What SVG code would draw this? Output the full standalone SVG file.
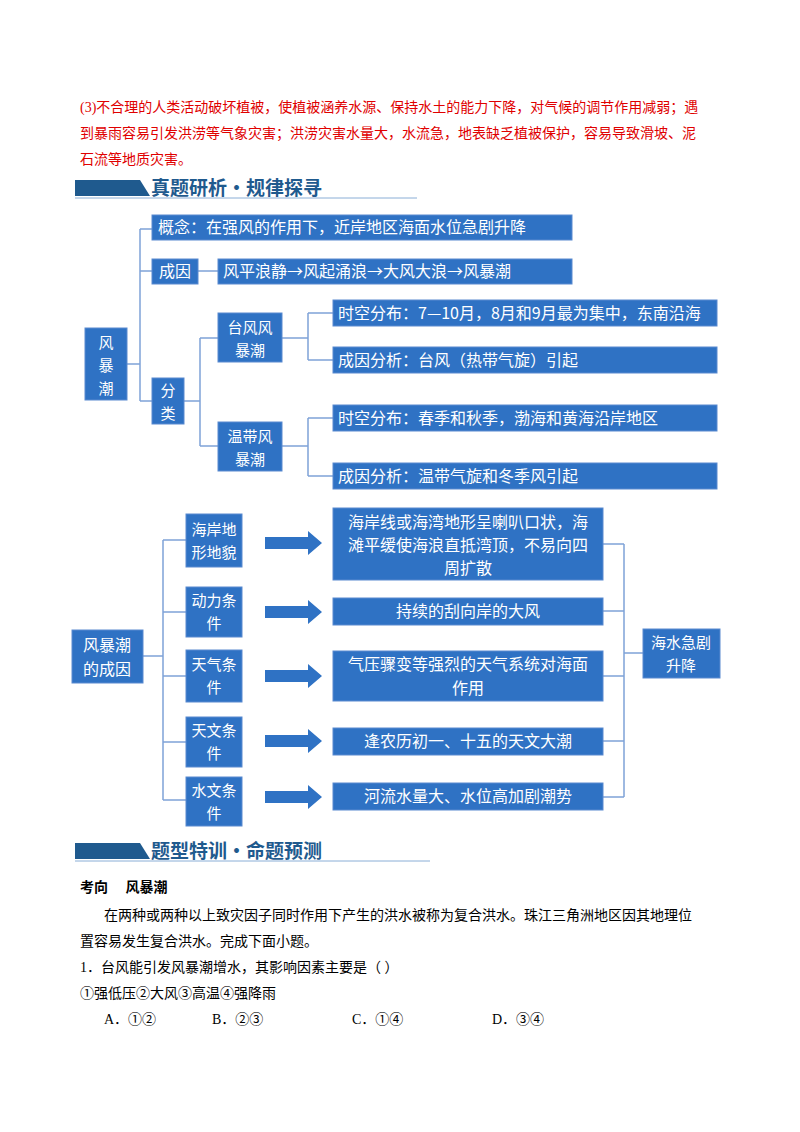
<svg xmlns="http://www.w3.org/2000/svg" width="800" height="1132" viewBox="0 0 800 1132">
<style>
text{font-family:"Liberation Serif","Noto Sans CJK SC",serif;}
.red{fill:#e00000;font-size:14px;}
.b{fill:#2f72c4;stroke:#5a8ad0;stroke-width:1}
.w{fill:#fff;font-family:"Noto Sans CJK SC",sans-serif;font-size:16px}
.s{font-size:15px}
.c{fill:none;stroke:#7fa3d8;stroke-width:1.5}
.t{fill:#000;font-size:14px}
.h{font-family:"Noto Sans CJK SC",serif;font-size:19px;fill:#1f5a8e;font-weight:bold}
.ar{fill:#2f72c4}
</style>
<rect width="800" height="1132" fill="#fff"/>
<text class="red" x="80" y="112">(3)不合理的人类活动破坏植被，使植被涵养水源、保持水土的能力下降，对气候的调节作用减弱；遇</text>
<text class="red" x="80" y="138">到暴雨容易引发洪涝等气象灾害；洪涝灾害水量大，水流急，地表缺乏植被保护，容易导致滑坡、泥</text>
<text class="red" x="80" y="164">石流等地质灾害。</text>
<g id="banner1">
<polygon points="75,180 140,180 150,196 75,196" fill="#1f5a8e"/>
<text class="h" x="151" y="195">真题研析·规律探寻</text>
<line x1="75" y1="198" x2="417" y2="198" stroke="#8aaed6" stroke-width="1"/>
</g>
<g id="connectors">
<path class="c" d="M140,229 V401 M140,229 H152 M140,271 H152 M127,364 H140 M140,401 H152 M198,271 H218 M184,401 H200 M200,338 V446 M200,338 H218 M200,446 H218 M282,338 H308 M308,313 V360 M308,313 H333 M308,360 H333 M282,446 H308 M308,418 V476 M308,418 H333 M308,476 H333"/>
<path class="c" d="M163,540 V800 M143,656 H163 M163,540 H186 M163,612 H186 M163,676 H186 M163,742 H186 M163,800 H186 M603,544 H624 M603,611 H624 M603,676 H624 M603,741 H624 M603,797 H624 M624,544 V797 M624,653 H643"/>
<path class="ar" d="M265,537 H308 V531 L322,543 L308,555 V549 H265Z M265,606 H308 V600 L322,612 L308,624 V618 H265Z M265,670 H308 V664 L322,676 L308,688 V682 H265Z M265,735 H308 V729 L322,741 L308,753 V747 H265Z M265,791 H308 V785 L322,797 L308,809 V803 H265Z"/>
</g>
<g id="n1"><rect class="b" x="152" y="215" width="420" height="25"/><text class="w" x="158" y="233">概念：在强风的作用下，近岸地区海面水位急剧升降</text></g>
<g id="n2"><rect class="b" x="152" y="259" width="46" height="25"/><text class="w" x="159" y="277">成因</text></g>
<g id="n3"><rect class="b" x="218" y="259" width="354" height="25"/><text class="w" x="223" y="277">风平浪静→风起涌浪→大风大浪→风暴潮</text></g>
<g id="n4"><rect class="b" x="85" y="328" width="42" height="72"/><text class="w s" x="106" y="348" text-anchor="middle">风</text><text class="w s" x="106" y="371" text-anchor="middle">暴</text><text class="w s" x="106" y="394" text-anchor="middle">潮</text></g>
<g id="n5"><rect class="b" x="152" y="378" width="32" height="46"/><text class="w s" x="168" y="396" text-anchor="middle">分</text><text class="w s" x="168" y="419" text-anchor="middle">类</text></g>
<g id="n6"><rect class="b" x="218" y="313" width="64" height="49"/><text class="w s" x="250" y="333" text-anchor="middle">台风风</text><text class="w s" x="250" y="356" text-anchor="middle">暴潮</text></g>
<g id="n7"><rect class="b" x="218" y="422" width="64" height="49"/><text class="w s" x="250" y="442" text-anchor="middle">温带风</text><text class="w s" x="250" y="465" text-anchor="middle">暴潮</text></g>
<g id="n8"><rect class="b" x="333" y="300" width="384" height="26"/><text class="w" x="338" y="319">时空分布：7—10月，8月和9月最为集中，东南沿海</text></g>
<g id="n9"><rect class="b" x="333" y="347" width="384" height="26"/><text class="w" x="338" y="366">成因分析：台风（热带气旋）引起</text></g>
<g id="n10"><rect class="b" x="333" y="405" width="384" height="26"/><text class="w" x="338" y="424">时空分布：春季和秋季，渤海和黄海沿岸地区</text></g>
<g id="n11"><rect class="b" x="333" y="463" width="384" height="26"/><text class="w" x="338" y="482">成因分析：温带气旋和冬季风引起</text></g>
<g id="m0"><rect class="b" x="72" y="630" width="71" height="53"/><text class="w" x="107" y="651" text-anchor="middle">风暴潮</text><text class="w" x="107" y="675" text-anchor="middle">的成因</text></g>
<g id="m1"><rect class="b" x="186" y="514" width="56" height="53"/><text class="w s" x="214" y="535" text-anchor="middle">海岸地</text><text class="w s" x="214" y="558" text-anchor="middle">形地貌</text></g>
<g id="m2"><rect class="b" x="186" y="587" width="56" height="50"/><text class="w s" x="214" y="606" text-anchor="middle">动力条</text><text class="w s" x="214" y="629" text-anchor="middle">件</text></g>
<g id="m3"><rect class="b" x="186" y="650" width="56" height="52"/><text class="w s" x="214" y="670" text-anchor="middle">天气条</text><text class="w s" x="214" y="693" text-anchor="middle">件</text></g>
<g id="m4"><rect class="b" x="186" y="717" width="56" height="50"/><text class="w s" x="214" y="736" text-anchor="middle">天文条</text><text class="w s" x="214" y="759" text-anchor="middle">件</text></g>
<g id="m5"><rect class="b" x="186" y="777" width="56" height="49"/><text class="w s" x="214" y="796" text-anchor="middle">水文条</text><text class="w s" x="214" y="819" text-anchor="middle">件</text></g>
<g id="r1"><rect class="b" x="333" y="508" width="270" height="72"/><text class="w" x="468" y="528" text-anchor="middle">海岸线或海湾地形呈喇叭口状，海</text><text class="w" x="468" y="551" text-anchor="middle">滩平缓使海浪直抵湾顶，不易向四</text><text class="w" x="468" y="574" text-anchor="middle">周扩散</text></g>
<g id="r2"><rect class="b" x="333" y="598" width="270" height="27"/><text class="w" x="468" y="617" text-anchor="middle">持续的刮向岸的大风</text></g>
<g id="r3"><rect class="b" x="333" y="651" width="270" height="50"/><text class="w" x="468" y="670" text-anchor="middle">气压骤变等强烈的天气系统对海面</text><text class="w" x="468" y="694" text-anchor="middle">作用</text></g>
<g id="r4"><rect class="b" x="333" y="728" width="270" height="27"/><text class="w" x="468" y="747" text-anchor="middle">逢农历初一、十五的天文大潮</text></g>
<g id="r5"><rect class="b" x="333" y="783" width="270" height="27"/><text class="w" x="468" y="802" text-anchor="middle">河流水量大、水位高加剧潮势</text></g>
<g id="f"><rect class="b" x="643" y="629" width="77" height="49"/><text class="w s" x="681" y="648" text-anchor="middle">海水急剧</text><text class="w s" x="681" y="671" text-anchor="middle">升降</text></g>
<g id="banner2">
<polygon points="75,843 140,843 150,859 75,859" fill="#1f5a8e"/>
<text class="h" x="151" y="858">题型特训·命题预测</text>
<line x1="75" y1="861" x2="430" y2="861" stroke="#8aaed6" stroke-width="1"/>
</g>
<text class="t" x="80" y="892" font-weight="bold">考向　 风暴潮</text>
<text class="t" x="104" y="920">在两种或两种以上致灾因子同时作用下产生的洪水被称为复合洪水。珠江三角洲地区因其地理位</text>
<text class="t" x="80" y="946">置容易发生复合洪水。完成下面小题。</text>
<text class="t" x="80" y="972">1．台风能引发风暴潮增水，其影响因素主要是（  ）</text>
<text class="t" x="80" y="998">①强低压②大风③高温④强降雨</text>
<text class="t" x="104" y="1024">A．①②</text>
<text class="t" x="212" y="1024">B．②③</text>
<text class="t" x="352" y="1024">C．①④</text>
<text class="t" x="492" y="1024">D．③④</text>
</svg>
